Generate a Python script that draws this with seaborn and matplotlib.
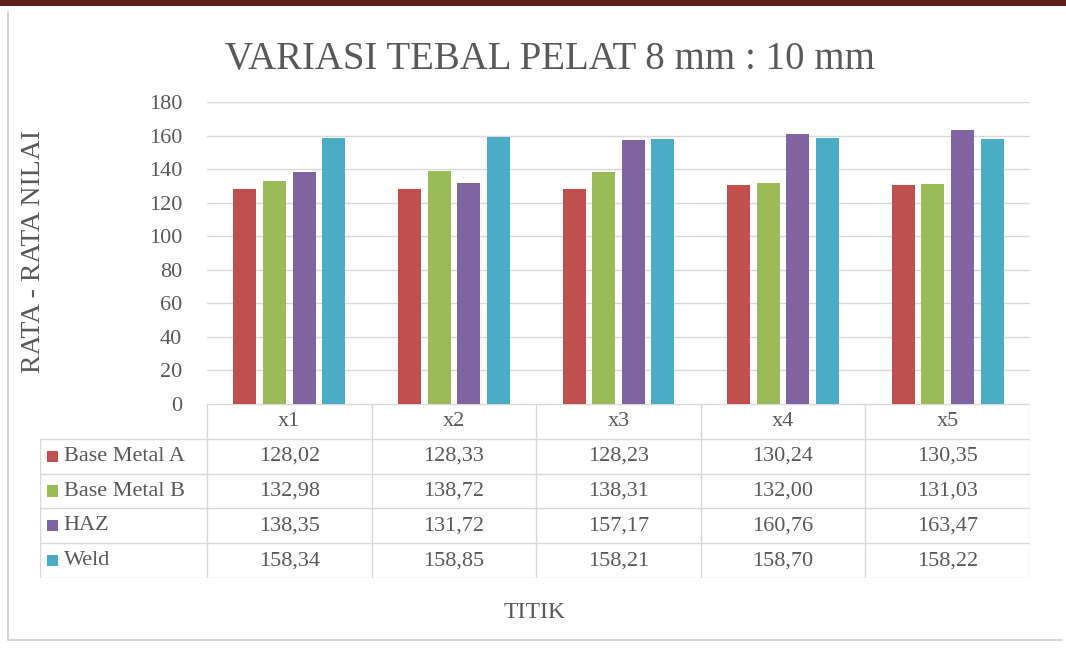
import matplotlib
matplotlib.use("Agg")
import matplotlib.pyplot as plt
import seaborn as sns
import pandas as pd
from matplotlib.patches import Rectangle
from matplotlib.lines import Line2D

titik = ["x1", "x2", "x3", "x4", "x5"]
series = ["Base Metal A", "Base Metal B", "HAZ", "Weld"]
base_metal_a = [128.02, 128.33, 128.23, 130.24, 130.35]
base_metal_b = [132.98, 138.72, 138.31, 132.00, 131.03]
haz = [138.35, 131.72, 157.17, 160.76, 163.47]
weld = [158.34, 158.85, 158.21, 158.70, 158.22]
yticks = [0, 20, 40, 60, 80, 100, 120, 140, 160, 180]
colors = ["#C0504D", "#9BBB59", "#8064A2", "#4BACC6"]

values = [base_metal_a, base_metal_b, haz, weld]
rows = []
for s, vals in zip(series, values):
    for t, v in zip(titik, vals):
        rows.append({"Titik": t, "Seri": s, "Nilai": v})
df = pd.DataFrame(rows)

sns.set_theme(style="white")
plt.rcParams["font.family"] = ["Liberation Serif", "DejaVu Serif"]
TXT = "#595959"
GRID = "#D9D9D9"

W, H = 1066, 648
fig = plt.figure(figsize=(W / 100, H / 100), dpi=100)
fig.patch.set_facecolor("white")

# top dark band and frame
fig.add_artist(Rectangle((0, 1 - 6 / H), 1, 6 / H, transform=fig.transFigure,
                         facecolor="#5E1E1E", edgecolor="none"))
fig.add_artist(Line2D([8 / W, 8 / W], [1 - 12 / H, 1 - 640 / H], transform=fig.transFigure,
                      color="#D0D0D0", lw=1.2))
fig.add_artist(Line2D([8 / W, 1062 / W], [1 - 640 / H, 1 - 640 / H], transform=fig.transFigure,
                      color="#D0D0D0", lw=1.2))

# main bar axes
x0, x1p = 207, 1030
ax = fig.add_axes([x0 / W, 1 - 404 / H, (x1p - x0) / W, (404 - 102) / H])
sns.barplot(data=df, x="Titik", y="Nilai", hue="Seri", palette=colors, width=0.72,
            gap=0.22, saturation=1, ax=ax, legend=False, edgecolor="none")
ax.set_xlim(-0.5, 4.5)
ax.set_ylim(0, 180)
ax.set_yticks(yticks)
ax.set_yticklabels([str(v) for v in yticks], fontsize=16, color=TXT)
ax.tick_params(axis="y", length=0, pad=18)
ax.set_xticks([])
ax.set_xlabel("")
ax.set_ylabel("")
ax.grid(axis="y", color=GRID, lw=1)
ax.set_axisbelow(True)
for sp in ax.spines.values():
    sp.set_visible(False)
ax.patch.set_alpha(0)

fig.text(550 / W, 1 - 60 / H, "VARIASI TEBAL PELAT 8 mm : 10 mm", ha="center", va="center",
         fontsize=28, color=TXT)
fig.text(34 / W, 1 - 252 / H, "RATA - RATA NILAI", ha="center", va="center", rotation=90,
         fontsize=20, color=TXT)
fig.text(535 / W, 1 - 612 / H, "TITIK", ha="center", va="center", fontsize=17, color=TXT)

# data table axes
cat_w = (x1p - x0) / 5
lab_w = (x0 - 40) / cat_w
tax = fig.add_axes([40 / W, 1 - 578 / H, (x1p - 40) / W, (578 - 404) / H])
tax.set_xlim(-0.5 - lab_w, 4.5)
tax.set_ylim(5, 0)
tax.axis("off")
left = -0.5 - lab_w
# horizontal lines
tax.plot([-0.5, 4.5], [0, 0], color=GRID, lw=1)
for r in range(1, 6):
    tax.plot([left, 4.5], [r, r], color=GRID, lw=1)
# vertical lines
tax.plot([left, left], [1, 5], color=GRID, lw=1)
for i in range(6):
    tax.plot([i - 0.5, i - 0.5], [0, 5], color=GRID, lw=1)
for i, t in enumerate(titik):
    tax.text(i, 0.5, t, ha="center", va="center", fontsize=16, color=TXT)
for r, (s, vals, c) in enumerate(zip(series, values, colors), start=1):
    tax.add_patch(Rectangle((left + 0.045, r + 0.5 - 0.16), 0.065, 0.32, facecolor=c,
                            edgecolor="none"))
    tax.text(left + 0.145, r + 0.5, s, ha="left", va="center", fontsize=16, color=TXT)
    for i, v in enumerate(vals):
        tax.text(i, r + 0.5, f"{v:.2f}".replace(".", ","), ha="center", va="center",
                 fontsize=16, color=TXT)

fig.savefig("out.png", dpi=100, facecolor="white")
